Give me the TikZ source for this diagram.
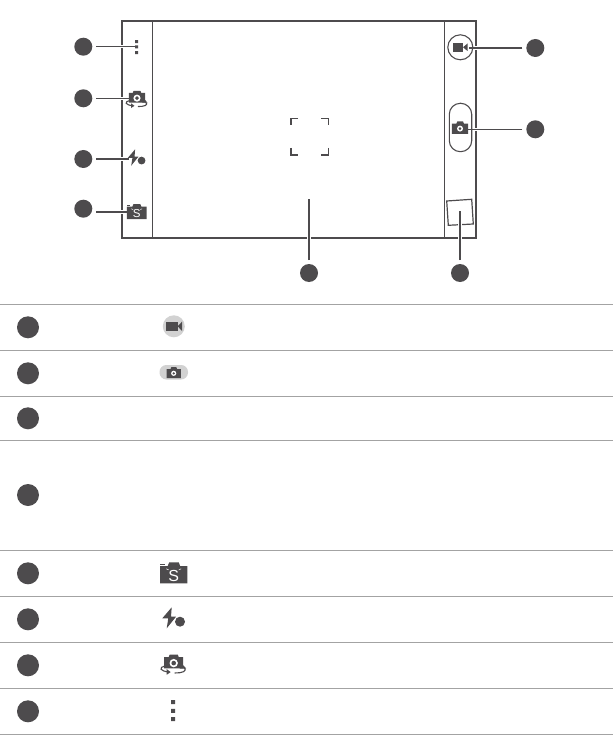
\documentclass[tikz,border=0pt]{standalone}
\usepackage{fontspec}
\setsansfont{Liberation Sans}
\definecolor{ink}{HTML}{4D4B4D}
\definecolor{rule}{HTML}{A3A3A3}
\definecolor{pale}{HTML}{D2D2D2}
\tikzset{
  badge/.style={circle,fill=ink,draw=none,inner sep=0pt,minimum size=18pt,outer sep=4pt},
  rowbadge/.style={circle,fill=ink,draw=none,inner sep=0pt,minimum size=22pt},
  frameline/.style={draw=ink,line width=1.5pt},
  panelline/.style={draw=ink,line width=.8pt},
  leader/.style={draw=ink,line width=1.3pt,preaction={draw=white,line width=3.4pt}},
  rowrule/.style={draw=rule,line width=.8pt},
  camglyph/.pic={
    \fill[ink] (-13.7,-7.3) -- (-6,-7.3) -- (-4.5,-11) -- (5,-11) -- (6.5,-7.3) -- (13.7,-7.3) -- (13.7,10) -- (-13.7,10) -- cycle;
    \fill[white] (0,1) circle (5);
    \fill[ink] (0,1) circle (2.4);
  },
  sglyph/.pic={
    \fill[ink] (-13.7,-7.3) -- (-6,-7.3) -- (-4.5,-11) -- (5,-11) -- (6.5,-7.3) -- (13.7,-7.3) -- (13.7,10) -- (-13.7,10) -- cycle;
    \fill[ink] (-13.7,-9.3) rectangle (-9,-8.4);
    \draw[white,line width=.5pt] (-7.5,-4.5) -- (-5,-3.4) (5,-3.4) -- (7.5,-4.5);
    \node[transform shape,text=white,font=\sffamily\fontsize{16}{16}\selectfont,inner sep=0pt] at (0,2.4) {S};
  },
  flashglyph/.pic={
    \fill[ink] (-1.8,-12) -- (-11.2,-1) -- (-5.2,-1) -- (-6.8,9) -- (2.5,-2.6) -- (-2.5,-2.6) -- cycle;
    \fill[ink] (6.5,2.4) circle (5);
  },
  switchglyph/.pic={
    \fill[ink] (-9.5,-8.5) -- (-5,-8.5) -- (-4,-11) -- (4,-11) -- (5,-8.5) -- (9.5,-8.5) -- (9.5,2.8) -- (-9.5,2.8) -- cycle;
    \fill[white] (0,-2.4) circle (4.2);
    \fill[ink] (0,-2.4) circle (2.3);
    \draw[ink,line width=1.1pt] (-9,.5) .. controls (-15,2) and (-14,5.5) .. (-5,6.5);
    \fill[ink] (-7,3.6) -- (-3,6.6) -- (-7,9.2) -- cycle;
    \draw[ink,line width=1.1pt] (1,7.5) .. controls (8,7.5) and (15,6) .. (9.5,1.5);
    \fill[ink] (6,3) -- (12.5,3) -- (9,-.8) -- cycle;
  },
}
\begin{document}
\begin{tikzpicture}[x=1pt,y=-1pt]
\useasboundingbox (0,0) rectangle (613,735);
% device frame
\draw[frameline] (122,21) rectangle (476,238);
\draw[panelline] (152.3,21) -- (152.3,238);
\draw[panelline] (444.3,21) -- (444.3,238);
% focus brackets
\draw[ink,line width=1.1pt]
  (298,118.5) -- (291,118.5) -- (291,125.5)
  (321,118.5) -- (328.5,118.5) -- (328.5,125.5)
  (291,148) -- (291,155) -- (298,155)
  (328.5,148) -- (328.5,155) -- (321,155);
% thumbnail
\draw[ink,line width=1.2pt] (446.7,201) -- (471.7,199.3) -- (473.3,224) -- (448.3,225.3) -- cycle;
% badges
\node[badge] (l1) at (83.3,46.7) {};
\node[badge] (l2) at (83.3,98.3) {};
\node[badge] (l3) at (83.3,159) {};
\node[badge] (l4) at (83.3,208.7) {};
\node[badge] (r1) at (535.3,48) {};
\node[badge] (r2) at (535.3,129.3) {};
\node[badge] (b1) at (309,273) {};
\node[badge] (b2) at (460,273) {};
% leader ends
\coordinate (tl1) at (134.5,46.7);
\coordinate (tl2) at (129,98.7);
\coordinate (tl3) at (129,159);
\coordinate (tl4) at (129,212);
\coordinate (tr1) at (469,48);
\coordinate (tr2) at (468,129.3);
\coordinate (tb1) at (309,199);
\coordinate (tb2) at (460,211);
\draw[leader] (l1) -- (tl1);
\draw[leader] (l2.east |- tl2) -- (tl2);
\draw[leader] (l3) -- (tl3);
\draw[leader] (l4.east |- tl4) -- (tl4);
\draw[leader] (r1) -- (tr1);
\draw[leader] (r2) -- (tr2);
\draw[leader] (b1) -- (tb1);
\draw[leader] (b2) -- (tb2);
% screen icons
\fill[ink] (135.2,40.2) rectangle (138.2,43.2) (135.2,45.5) rectangle (138.2,48.5) (135.2,51.2) rectangle (138.2,54.2);
\pic[scale=.85] at (137,100.2) {switchglyph};
\pic[scale=.78] at (136.5,158.7) {flashglyph};
\pic[scale=.72] at (136.7,212) {sglyph};
\draw[ink,line width=1.1pt] (460.3,47.3) circle (12.5);
\fill[ink] (453,43) rectangle (463,51.7);
\fill[ink] (463,47.3) -- (467.5,43.5) -- (467.5,51) -- cycle;
\draw[ink,line width=1.1pt,rounded corners=11pt] (449.3,103.3) rectangle (471.7,151.7);
\pic[scale=.6] at (460,128) {camglyph};
% table rules
\foreach \yy in {304.4,350.4,396.4,440.4,550.4,596.4,642.4,688.4,734.4}
  \draw[rowrule] (0,\yy) -- (613,\yy);
% table badges
\node[rowbadge] (t1) at (28,327.3) {};
\node[rowbadge] (t2) at (28,373.3) {};
\node[rowbadge] (t3) at (28,418.3) {};
\node[rowbadge] (t4) at (28,495) {};
\node[rowbadge] (t5) at (28,573.3) {};
\node[rowbadge] (t6) at (28,619.3) {};
\node[rowbadge] (t7) at (28,665.3) {};
\node[rowbadge] (t8) at (28,711.3) {};
% table icons
\fill[pale] (173.8,326.3) circle (11);
\fill[ink] (165.7,321.7) rectangle (177.7,331);
\fill[ink] (177.7,326.3) -- (182,321.7) -- (182,331) -- cycle;
\fill[pale,rounded corners=6.9pt] (159.5,365) rectangle (188,379.5);
\pic[scale=.52] at (173.7,372.8) {camglyph};
\pic at (173.7,573.3) {sglyph};
\pic at (173.5,619.3) {flashglyph};
\pic at (173.7,665.5) {switchglyph};
\fill[ink] (171,700.2) rectangle (175,704.2) (171,708.8) rectangle (175,712.8) (171,717) rectangle (175,721);
\end{tikzpicture}
\end{document}
